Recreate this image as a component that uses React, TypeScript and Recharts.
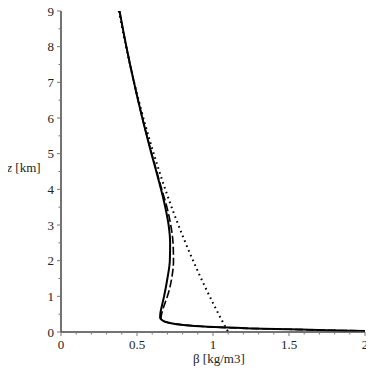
import React from 'react';
import { LineChart, Line, XAxis, YAxis } from 'recharts';

// z [km] levels and beta [kg/m3] values for each curve
const solidZ = [9, 8, 7, 6, 5, 4.5, 4, 3.5, 3, 2.5, 2, 1.5, 1, 0.7, 0.5, 0.4, 0.35, 0.28, 0.22, 0.17, 0.13, 0.1, 0.075, 0.05, 0.03];
const solidB = [0.385, 0.43, 0.48, 0.535, 0.595, 0.627, 0.658, 0.686, 0.708, 0.718, 0.716, 0.7, 0.678, 0.662, 0.653, 0.652, 0.66, 0.69, 0.76, 0.88, 1.05, 1.25, 1.5, 1.75, 2.0];

const dashedZ = [9, 8, 7, 6, 5, 4.5, 4, 3.5, 3, 2.5, 2, 1.5, 1, 0.7, 0.5, 0.4, 0.35, 0.28, 0.22, 0.17, 0.13, 0.1, 0.075, 0.05, 0.03];
const dashedB = [0.385, 0.43, 0.48, 0.535, 0.597, 0.63, 0.663, 0.697, 0.722, 0.737, 0.74, 0.728, 0.7, 0.675, 0.662, 0.658, 0.662, 0.69, 0.76, 0.88, 1.05, 1.25, 1.5, 1.75, 2.0];

const dottedZ = [9, 8, 7, 6, 5, 4, 3, 2, 1, 0.5, 0];
const dottedB = [0.38, 0.428, 0.481, 0.542, 0.61, 0.686, 0.772, 0.869, 0.978, 1.037, 1.1];

const xTicks = [0, 0.1, 0.2, 0.3, 0.4, 0.5, 0.6, 0.7, 0.8, 0.9, 1, 1.1, 1.2, 1.3, 1.4, 1.5, 1.6, 1.7, 1.8, 1.9, 2];
const yTicks = [0, 0.5, 1, 1.5, 2, 2.5, 3, 3.5, 4, 4.5, 5, 5.5, 6, 6.5, 7, 7.5, 8, 8.5, 9];

const xLabel = 'β [kg/m3]';
const yLabelVar = 'z';
const yLabelUnit = ' [km]';

const toRows = (zs: number[], bs: number[]) => zs.map((z, i) => ({ z, b: bs[i] }));

const textStyle: React.CSSProperties = {
  fontFamily: "'Liberation Serif', 'Times New Roman', serif",
  fontSize: 13,
};

const isMajorX = (v: number) => Math.abs(v * 2 - Math.round(v * 2)) < 1e-6;
const isMajorY = (v: number) => Math.abs(v - Math.round(v)) < 1e-6;

const XTick = (props: any) => {
  const { x, y, payload } = props;
  const v = payload.value;
  const major = isMajorX(v);
  return (
    <g>
      <line x1={x} x2={x} y1={y} y2={y + (major ? 4 : 2.5)} stroke="#777" strokeWidth={1} />
      {major && (
        <text x={x} y={y + 17} textAnchor="middle" style={textStyle} fill="#222">
          {String(v)}
        </text>
      )}
    </g>
  );
};

const YTick = (props: any) => {
  const { x, y, payload } = props;
  const v = payload.value;
  const major = isMajorY(v);
  return (
    <g>
      <line x1={x} x2={x - (major ? 4 : 2.5)} y1={y} y2={y} stroke="#777" strokeWidth={1} />
      {major && (
        <text x={x - 7} y={y + 4.5} textAnchor="end" style={textStyle} fill="#222">
          {String(v)}
        </text>
      )}
    </g>
  );
};

export default function App() {
  return (
    <div style={{ margin: -8 }}>
      <LineChart width={374} height={374} margin={{ top: 11, right: 9, left: 0, bottom: 0 }}>
        <XAxis
          type="number"
          dataKey="b"
          domain={[0, 2]}
          ticks={xTicks}
          interval={0}
          height={42}
          tickSize={0}
          tickMargin={0}
          tick={<XTick />}
          axisLine={{ stroke: '#444', strokeWidth: 1.5 }}
          allowDataOverflow
          label={{
            content: () => (
              <text x={193} y={363} style={textStyle} fill="#222">
                {xLabel}
              </text>
            ),
          }}
        />
        <YAxis
          type="number"
          dataKey="z"
          domain={[0, 9]}
          ticks={yTicks}
          interval={0}
          width={61}
          tickSize={0}
          tickMargin={0}
          tick={<YTick />}
          axisLine={{ stroke: '#444', strokeWidth: 1.5 }}
          allowDataOverflow
          label={{
            content: () => (
              <text x={7} y={172} style={textStyle} fill="#222">
                <tspan fontStyle="italic">{yLabelVar}</tspan>
                <tspan>{yLabelUnit}</tspan>
              </text>
            ),
          }}
        />
        <Line
          data={toRows(dottedZ, dottedB)}
          dataKey="z"
          type="monotoneY"
          stroke="#000"
          strokeWidth={2}
          strokeDasharray="1.6 3.6"
          dot={false}
          activeDot={false}
          isAnimationActive={false}
        />
        <Line
          data={toRows(dashedZ, dashedB)}
          dataKey="z"
          type="monotoneY"
          stroke="#000"
          strokeWidth={1.6}
          strokeDasharray="8 3"
          dot={false}
          activeDot={false}
          isAnimationActive={false}
        />
        <Line
          data={toRows(solidZ, solidB)}
          dataKey="z"
          type="monotoneY"
          stroke="#000"
          strokeWidth={2}
          dot={false}
          activeDot={false}
          isAnimationActive={false}
        />
      </LineChart>
    </div>
  );
}
